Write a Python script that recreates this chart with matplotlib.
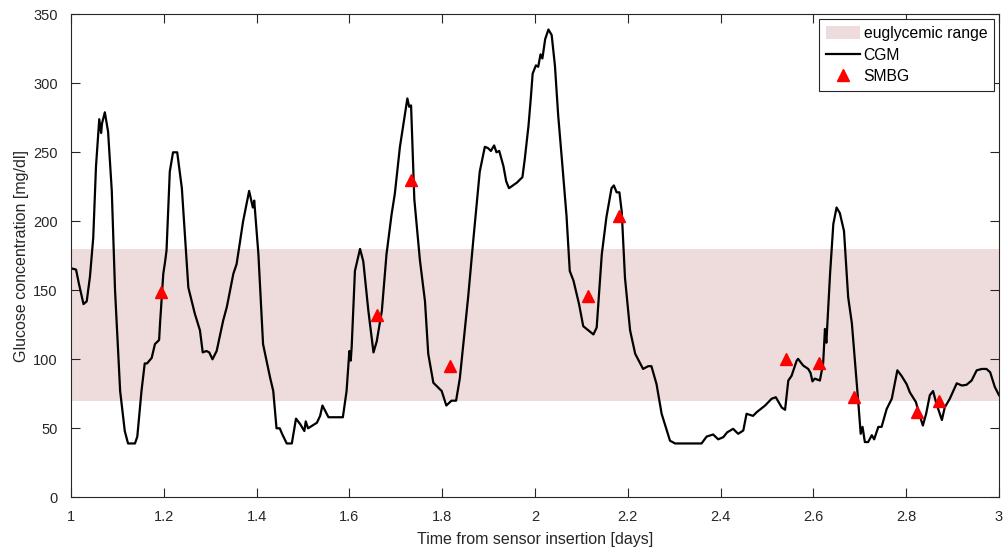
import numpy as np
import matplotlib.pyplot as plt
from matplotlib.patches import Patch
from matplotlib.lines import Line2D

# ------------------------------------------------------------------------------
# DATOS
# ------------------------------------------------------------------------------
# CGM (tiempo en días, glucosa en mg/dl)
cgm_t = [1.000, 1.011, 1.017, 1.027, 1.034, 1.041, 1.048, 1.054, 1.061, 1.065,
         1.067, 1.073, 1.080, 1.088, 1.095, 1.106, 1.116, 1.123, 1.138, 1.143,
         1.152, 1.159, 1.164, 1.174, 1.181, 1.190, 1.192, 1.199, 1.203, 1.206,
         1.213, 1.220, 1.229, 1.239, 1.246, 1.253, 1.267, 1.278, 1.284, 1.292,
         1.298, 1.305, 1.314, 1.328, 1.336, 1.350, 1.357, 1.371, 1.384, 1.392,
         1.395, 1.404, 1.414, 1.429, 1.436, 1.443, 1.450, 1.455, 1.465, 1.476,
         1.485, 1.494, 1.503, 1.506, 1.511, 1.530, 1.537, 1.542, 1.555, 1.565,
         1.586, 1.594, 1.600, 1.603, 1.605, 1.612, 1.623, 1.630, 1.641, 1.652,
         1.659, 1.670, 1.680, 1.691, 1.698, 1.709, 1.725, 1.729, 1.733, 1.736,
         1.740, 1.752, 1.763, 1.770, 1.781, 1.799, 1.809, 1.820, 1.830, 1.838,
         1.845, 1.856, 1.867, 1.881, 1.892, 1.899, 1.905, 1.912, 1.917, 1.923,
         1.932, 1.938, 1.944, 1.961, 1.973, 1.978, 1.986, 1.991, 1.995, 2.002,
         2.007, 2.012, 2.016, 2.022, 2.029, 2.036, 2.043, 2.050, 2.058, 2.068,
         2.075, 2.083, 2.095, 2.104, 2.115, 2.126, 2.133, 2.144, 2.154, 2.165,
         2.170, 2.176, 2.182, 2.187, 2.194, 2.205, 2.216, 2.233, 2.244, 2.251,
         2.262, 2.273, 2.291, 2.302, 2.359, 2.370, 2.384, 2.395, 2.406, 2.414,
         2.427, 2.438, 2.449, 2.456, 2.470, 2.478, 2.496, 2.510, 2.519, 2.532,
         2.539, 2.546, 2.553, 2.564, 2.567, 2.578, 2.589, 2.594, 2.598, 2.603,
         2.614, 2.621, 2.625, 2.628, 2.636, 2.643, 2.650, 2.657, 2.666, 2.675,
         2.683, 2.690, 2.697, 2.702, 2.706, 2.711, 2.718, 2.726, 2.731, 2.740,
         2.747, 2.758, 2.769, 2.781, 2.790, 2.801, 2.808, 2.821, 2.828, 2.836,
         2.843, 2.851, 2.858, 2.865, 2.870, 2.877, 2.883, 2.894, 2.909, 2.920,
         2.930, 2.941, 2.952, 2.963, 2.973, 2.981, 2.991, 3.000]
cgm_g = [166, 165, 155, 140, 142, 160, 188, 240, 274, 264,
         271, 279, 265, 222, 150, 77, 48, 39, 39, 44,
         77, 97, 97, 101, 111, 114, 126, 162, 171, 179,
         236, 250, 250, 224, 188, 152, 133, 121, 105, 106,
         105, 100, 106, 128, 138, 162, 169, 200, 222, 210,
         215, 176, 111, 87, 77, 50, 50, 46, 39, 39,
         57, 53, 48, 55, 50, 54, 59, 66.5, 58, 58,
         58, 77, 106, 99, 109, 164, 180, 171, 135, 105,
         113, 135, 176, 205, 220, 254, 289, 283, 284, 254,
         216, 172, 142, 104, 83, 77, 66.5, 70, 70, 86,
         109, 145, 186, 236, 254, 253, 251, 255, 250, 251,
         240, 229, 224, 228, 232, 245, 269, 289, 307, 313,
         312, 321, 318, 332, 339, 335, 313, 277, 245, 204,
         164, 157, 140, 124, 121, 118, 123, 176, 203, 224,
         226, 221, 221, 207, 159, 121, 104, 93, 95, 95,
         82, 60.5, 41, 39, 39, 44, 45.5, 42, 43.6, 47,
         49.6, 46, 48.4, 60.5, 59, 61.7, 66.5, 71.4, 72.5, 65,
         63.4, 84.6, 88, 99, 100.3, 95.5, 93, 90, 84, 86,
         84.6, 96.7, 122, 112, 162, 198, 210, 206, 193, 145,
         126, 97, 68, 46, 51, 40, 40, 45, 42, 51,
         51, 64, 71.4, 92, 88, 82, 76, 69, 60.5, 52,
         60.5, 74, 77, 68, 63, 56, 65, 71.4, 82.6, 81,
         81.5, 84.6, 92, 93, 93, 90.6, 80, 74]

# SMBG
smbg_t = [1.193, 1.659, 1.732, 1.817, 2.115, 2.181, 2.542, 2.613, 2.688, 2.824, 2.871]
smbg_g = [149, 132, 230, 95, 146, 204, 100, 97, 73, 62, 70]

# Rango euglucémico
eu_low, eu_high = 70, 180

x_ticks = [1, 1.2, 1.4, 1.6, 1.8, 2, 2.2, 2.4, 2.6, 2.8, 3]
x_tick_labels = ["1", "1.2", "1.4", "1.6", "1.8", "2", "2.2", "2.4", "2.6", "2.8", "3"]
y_ticks = [0, 50, 100, 150, 200, 250, 300, 350]

# ------------------------------------------------------------------------------
# GRÁFICA
# ------------------------------------------------------------------------------
plt.rcParams['font.family'] = ['Liberation Sans', 'DejaVu Sans']
txt = '#262626'

fig = plt.figure(figsize=(10.05, 5.51), dpi=100)
ax = fig.add_axes([0.0706, 0.0975, 0.9234, 0.8765])

band_color = '#EEDCDD'
ax.axhspan(eu_low, eu_high, color=band_color, lw=0, zorder=1)
ax.plot(cgm_t, cgm_g, color='black', lw=1.6, zorder=2)
ax.plot(smbg_t, smbg_g, linestyle='none', marker='^', color='red', ms=9, zorder=3)

ax.set_xlim(1, 3)
ax.set_ylim(0, 350)
ax.set_xticks(x_ticks)
ax.set_xticklabels(x_tick_labels)
ax.set_yticks(y_ticks)
ax.tick_params(direction='in', length=6.5, width=0.8, colors=txt, labelsize=10.5,
               top=True, right=True)
ax.tick_params(axis='y', pad=9.5)
ax.tick_params(axis='x', pad=9)
for s in ax.spines.values():
    s.set_color(txt)
    s.set_linewidth(0.8)

ax.set_xlabel("Time from sensor insertion [days]", fontsize=11.5, color=txt, labelpad=6)
ax.set_ylabel("Glucose concentration [mg/dl]", fontsize=11.5, color=txt, labelpad=3)

handles = [Patch(facecolor=band_color, edgecolor='none', label='euglycemic range'),
           Line2D([0], [0], color='black', lw=1.6, label='CGM'),
           Line2D([0], [0], linestyle='none', marker='^', color='red', ms=9, label='SMBG')]
leg = ax.legend(handles=handles, loc='upper right', fontsize=11.3, fancybox=False,
                framealpha=1, edgecolor=txt, borderpad=0.45, labelspacing=0.42,
                handlelength=2.2, handleheight=0.9, handletextpad=0.2,
                borderaxespad=0.3)
leg.get_frame().set_linewidth(0.8)
for t in leg.get_texts():
    t.set_color('black')

fig.savefig("out.png", dpi=100)
